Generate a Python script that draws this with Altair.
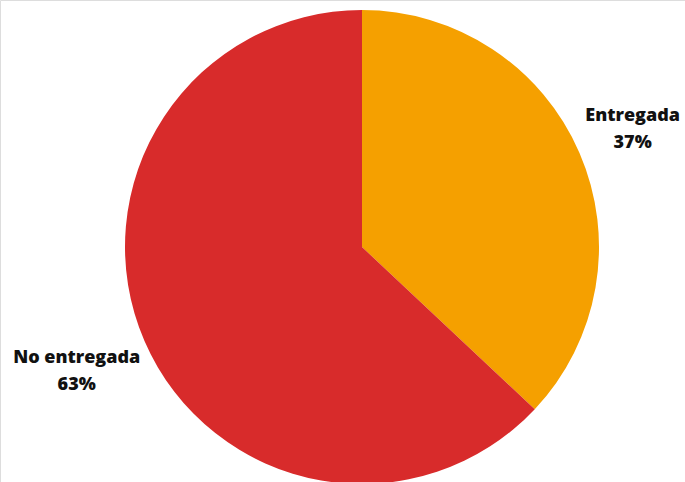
import altair as alt
import pandas as pd

categories = ["Entregada", "No entregada"]
values = [37, 63]
colors = ["#F5A000", "#D82B2B"]

total = sum(values)
df = pd.DataFrame({
    "categoria": categories,
    "valor": values,
    "orden": [0, 1],
})
df["etiqueta"] = [[c, f"{v}%"] for c, v in zip(categories, values)]

theta_scale = alt.Scale(domain=[0, total], range=[0, 6.283185307179586])

base = alt.Chart(df).transform_window(
    fin="sum(valor)", frame=[None, 0], sort=[alt.SortField("orden")]
).transform_calculate(
    ini="datum.fin - datum.valor",
    medio="datum.fin - datum.valor / 2",
).encode(
    x=alt.value(362),
    y=alt.value(247),
)

pie = base.mark_arc(radius=237).encode(
    theta=alt.Theta("ini:Q", scale=theta_scale),
    theta2="fin:Q",
    color=alt.Color("categoria:N", scale=alt.Scale(domain=categories, range=colors), legend=None),
)

txt_style = dict(font="Open Sans", fontWeight=800, fontSize=18, lineHeight=27,
                 align="center", baseline="middle", color="#111111")

t1 = base.mark_text(radius=284, dx=10, dy=-18, **txt_style).encode(
    theta=alt.Theta("medio:Q", scale=theta_scale), text="etiqueta"
).transform_filter(alt.datum.categoria == "Entregada")
t2 = base.mark_text(radius=300, dx=-10, dy=-8, **txt_style).encode(
    theta=alt.Theta("medio:Q", scale=theta_scale), text="etiqueta"
).transform_filter(alt.datum.categoria == "No entregada")

chart = alt.layer(pie, t1, t2).properties(
    width=685, height=482, padding=0, autosize=alt.AutoSizeParams(type="none")
).configure_view(stroke=None).configure(background="white")

chart.save("out.html", embed_options={"renderer": "svg", "actions": False})
